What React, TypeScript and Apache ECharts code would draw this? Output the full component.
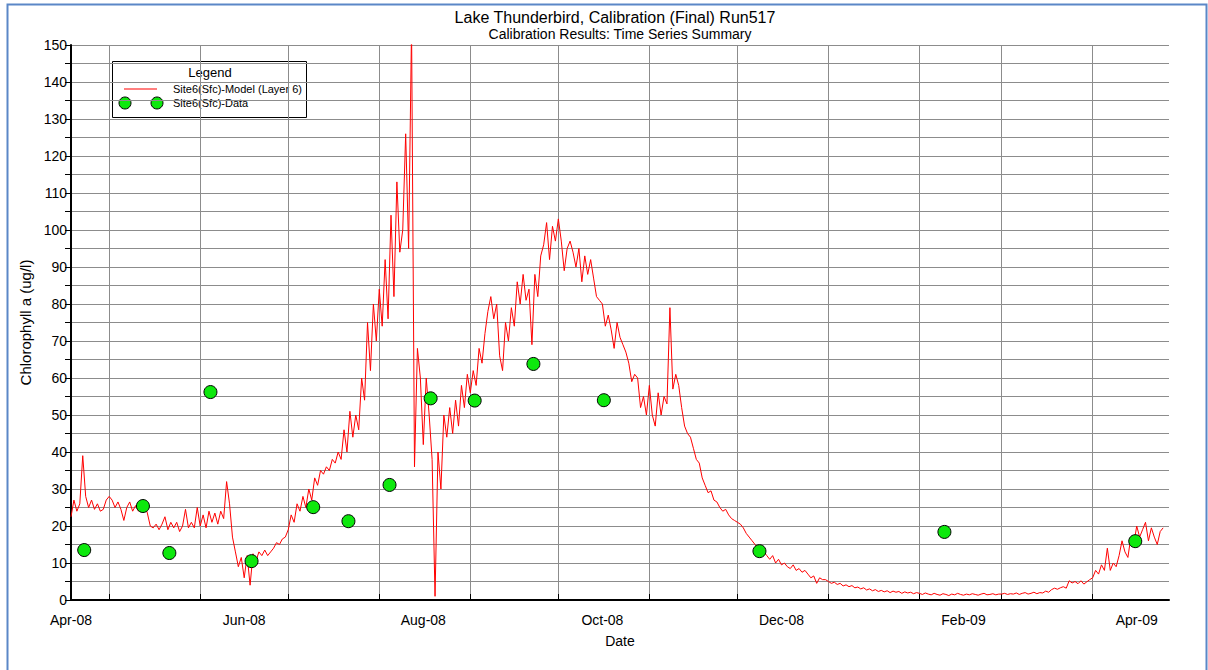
import React, { useEffect, useRef } from 'react';
import * as echarts from 'echarts';

const DAY = 86400000;
const FONT = 'Liberation Sans, Arial, sans-serif';

// axis range and ticks
const X_MIN = '2008-04-18';
const X_MAX = '2009-04-27';
const tickDates = ['2008-05-01', '2008-06-01', '2008-07-01', '2008-08-01', '2008-09-01', '2008-10-01',
  '2008-11-01', '2008-12-01', '2009-01-01', '2009-02-01', '2009-03-01', '2009-04-01'];
const labelDates = ['2008-04-18', '2008-06-16', '2008-08-16', '2008-10-16', '2008-12-16', '2009-02-16', '2009-04-16'];
const monthNames = ['Jan', 'Feb', 'Mar', 'Apr', 'May', 'Jun', 'Jul', 'Aug', 'Sep', 'Oct', 'Nov', 'Dec'];

// model series: daily values starting 2008-04-18
const MODEL_START = '2008-04-18';
const modelApr08 = [22.5, 27, 24, 26, 39, 28, 25, 27, 24.5, 26, 24, 24.5, 27];
const modelMay08 = [28, 27, 25, 26.5, 24.5, 21.5, 25, 26.5, 24, 25.5, 24, 25, 26, 23.5, 20, 19.5, 20.5, 19, 20.5, 22.5,
  19, 21, 19.5, 21, 18.5, 20, 24.5, 19.5, 21, 19.5, 25];
const modelJun08 = [20, 23, 19.5, 24, 21, 23.5, 20.5, 24, 22, 32, 26, 17, 13, 9, 11.5, 6, 12, 4, 12.5, 10.5,
  13, 12, 13.5, 12, 13, 14, 15.5, 15, 16.5, 17];
const modelJul08 = [19, 23, 21, 26, 24, 28, 25, 30, 27, 33, 31, 35, 34, 36, 35, 38, 37, 40, 38, 46,
  40, 51, 44, 50, 46, 60, 54, 75, 62, 80, 70];
const modelAug08 = [84, 74, 92, 76, 104, 82, 113, 94, 100, 126, 95, 155, 36, 68, 60, 42, 60, 50, 38, 1,
  40, 30, 50, 44, 52, 45, 54, 47, 58, 52, 61];
const modelSep08 = [56, 62, 58, 68, 64, 72, 78, 82, 76, 80, 66, 62, 75, 70, 79, 74, 86, 80, 88, 81,
  84, 69, 88, 82, 93, 96, 102, 92, 101, 97];
const modelOct08 = [103, 97, 89, 95, 97, 94, 90, 95, 86, 93, 88, 92, 87, 82, 81, 80, 74, 77, 73, 68,
  75, 71, 69, 67, 64, 59, 61, 60, 52, 55, 50];
const modelNov08 = [58, 50, 47, 56, 50, 55, 53, 79, 57, 61, 58, 52, 47, 45, 44, 41, 38, 37, 33, 31,
  29, 29.5, 27, 26.5, 25, 24, 24.5, 23, 22, 21.5];
const modelDec08 = [21, 20.5, 19.5, 18, 17, 16, 15, 14, 13.5, 13, 12, 11, 12, 10, 11, 9.5, 10, 9, 8.5, 9.5,
  8, 8.5, 7.5, 8, 7, 6, 6.5, 4.5, 6, 5.5, 5.5];
const modelJan09 = [5, 4.5, 4.8, 4.2, 4.5, 3.8, 4.1, 3.6, 3.9, 3.3, 3.5, 3, 3.3, 2.7, 3, 2.5, 2.8, 2.3, 2.6, 2.2,
  2.5, 2, 2.4, 2.1, 2.3, 1.8, 2.2, 1.9, 2.1, 1.7, 2];
const modelFeb09 = [1.8, 1.5, 1.9, 1.6, 1.4, 1.8, 1.5, 1.3, 1.7, 1.5, 1.2, 1.6, 1.4, 1.8, 1.5, 1.3, 1.6, 1.4, 1.7, 1.5,
  1.3, 1.6, 1.8, 1.4, 1.5, 1.7, 1.4, 1.6];
const modelMar09 = [1.6, 1.8, 1.5, 1.7, 1.6, 1.9, 1.5, 1.8, 2, 1.6, 1.8, 2.1, 1.7, 2, 1.9, 2.4, 2.1, 2.8, 3.2, 2.9,
  3.3, 3.6, 3.2, 5.2, 4.6, 5, 4.4, 5.2, 4.3, 4.9, 5.5];
const modelApr09 = [6, 8, 7, 9.5, 8, 14, 8, 10, 9, 12, 16, 13, 11.5, 17, 15, 20, 17, 19, 21, 16,
  19.5, 17, 15, 18.5, 19.5];

// observed data
const obsDates = ['2008-04-22', '2008-05-12', '2008-05-21', '2008-06-04', '2008-06-18', '2008-07-09', '2008-07-21',
  '2008-08-04', '2008-08-18', '2008-09-02', '2008-09-22', '2008-10-16', '2008-12-08', '2009-02-09', '2009-04-15'];
const obsValues = [13.5, 25.4, 12.7, 56.2, 10.5, 25.1, 21.3, 31.1, 54.5, 53.9, 63.8, 54.0, 13.2, 18.4, 15.9];

const titleText = 'Lake Thunderbird, Calibration (Final) Run517';
const subtitleText = 'Calibration Results: Time Series Summary';
const xName = 'Date';
const yName = 'Chlorophyll a (ug/l)';
const legendTitle = 'Legend';
const modelName = 'Site6(Sfc)-Model (Layer 6)';
const dataName = 'Site6(Sfc)-Data';

const ts = (d: string) => Date.parse(d + 'T00:00:00Z');

export default function App() {
  const ref = useRef<HTMLDivElement>(null);
  useEffect(() => {
    document.body.style.margin = '0';
    if (!ref.current) return;
    const chart = echarts.init(ref.current, undefined, { renderer: 'svg' });
    const model = [
      ...modelApr08, ...modelMay08, ...modelJun08, ...modelJul08, ...modelAug08, ...modelSep08,
      ...modelOct08, ...modelNov08, ...modelDec08, ...modelJan09, ...modelFeb09, ...modelMar09, ...modelApr09,
    ];
    const start = ts(MODEL_START);
    const modelData = model.map((v, i) => [start + i * DAY, v]);
    const obsData = obsDates.map((d, i) => [ts(d) + DAY / 2, obsValues[i]]);
    const fmt = (v: number) => {
      const d = new Date(v);
      return monthNames[d.getUTCMonth()] + '-' + String(d.getUTCFullYear() % 100).padStart(2, '0');
    };
    const txt = { color: '#000', fontFamily: FONT };
    chart.setOption({
      animation: false,
      backgroundColor: '#ffffff',
      grid: { left: 71, right: 39, top: 45, bottom: 70, containLabel: false, outerBoundsMode: 'none' },
      xAxis: {
        type: 'value',
        min: ts(X_MIN),
        max: ts(X_MAX),
        name: xName,
        nameLocation: 'middle',
        nameGap: 34,
        nameTextStyle: { ...txt, fontSize: 14 },
        axisLine: { show: true, onZero: false, lineStyle: { color: '#000', width: 2 } },
        axisTick: { show: true, inside: true, length: 6, customValues: tickDates.map(ts), lineStyle: { color: '#000', width: 1 } },
        axisLabel: { show: true, customValues: labelDates.map(ts), formatter: fmt, ...txt, fontSize: 14, margin: 13, hideOverlap: false },
        splitLine: { show: true, lineStyle: { color: '#8c8c8c', width: 1 } },
      },
      yAxis: {
        type: 'value',
        min: 0,
        max: 150,
        interval: 5,
        name: yName,
        nameLocation: 'middle',
        nameGap: 31,
        nameTextStyle: { ...txt, fontSize: 15 },
        axisLine: { show: true, lineStyle: { color: '#000', width: 2 } },
        axisTick: { show: true, length: 6, lineStyle: { color: '#000', width: 1 } },
        axisLabel: { formatter: (v: number) => (v % 10 === 0 ? String(v) : ''), ...txt, fontSize: 14, margin: 4, hideOverlap: false },
        splitLine: { show: true, lineStyle: { color: '#8c8c8c', width: 1 } },
      },
      series: [
        {
          name: modelName,
          type: 'line',
          data: modelData,
          showSymbol: false,
          symbol: 'none',
          clip: true,
          lineStyle: { color: '#ff0000', width: 1 },
          z: 2,
        },
        {
          name: dataName,
          type: 'scatter',
          data: obsData,
          symbol: 'circle',
          symbolSize: 13,
          itemStyle: { color: '#0de80d', borderColor: '#000', borderWidth: 1, opacity: 1 },
          z: 3,
        },
      ],
      graphic: [
        {
          type: 'rect', left: 5, top: 2, z: 100, silent: true,
          shape: { x: 5, y: 2, width: 1199, height: 700 },
          style: { fill: 'none', stroke: '#5b87c7', lineWidth: 2 },
        },
        {
          type: 'text', x: 615, y: 17, z: 100,
          style: { text: titleText, fill: '#000', fontSize: 16, fontFamily: FONT, align: 'center', verticalAlign: 'middle', textAlign: 'center', textVerticalAlign: 'middle' },
        },
        {
          type: 'text', x: 620, y: 34, z: 100,
          style: { text: subtitleText, fill: '#000', fontSize: 14, fontFamily: FONT, align: 'center', verticalAlign: 'middle', textAlign: 'center', textVerticalAlign: 'middle' },
        },
        {
          type: 'group', x: 0, y: 0, z: 100,
          children: [
            { type: 'rect', shape: { x: 112.5, y: 61.5, width: 194, height: 56 }, style: { fill: '#fff', stroke: '#000', lineWidth: 1 } },
            {
              type: 'text', x: 210, y: 72,
              style: { text: legendTitle, fill: '#000', fontSize: 13, fontFamily: FONT, align: 'center', verticalAlign: 'middle', textAlign: 'center', textVerticalAlign: 'middle' },
            },
            { type: 'line', shape: { x1: 124, y1: 89, x2: 157, y2: 89 }, style: { stroke: '#ff0000', lineWidth: 1.2 } },
            {
              type: 'text', x: 173, y: 89,
              style: { text: modelName, fill: '#000', fontSize: 11, fontFamily: FONT, align: 'left', verticalAlign: 'middle', textAlign: 'left', textVerticalAlign: 'middle' },
            },
            { type: 'circle', shape: { cx: 125, cy: 103, r: 6 }, style: { fill: '#0de80d', stroke: '#000', lineWidth: 1 } },
            { type: 'circle', shape: { cx: 157, cy: 103, r: 6 }, style: { fill: '#0de80d', stroke: '#000', lineWidth: 1 } },
            {
              type: 'text', x: 173, y: 103,
              style: { text: dataName, fill: '#000', fontSize: 11, fontFamily: FONT, align: 'left', verticalAlign: 'middle', textAlign: 'left', textVerticalAlign: 'middle' },
            },
          ],
        },
      ],
    });
    return () => chart.dispose();
  }, []);
  return <div ref={ref} style={{ width: 1208, height: 670 }} />;
}
